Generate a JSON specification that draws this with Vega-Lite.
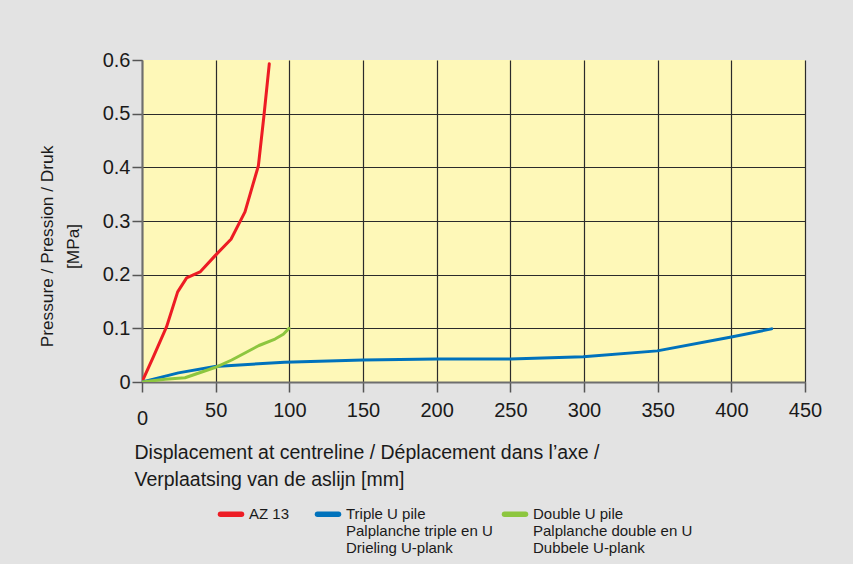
{
  "$schema": "https://vega.github.io/schema/vega-lite/v6.json",
  "width": 663,
  "height": 322,
  "autosize": "none",
  "padding": {"left": 142, "top": 60, "right": 48, "bottom": 182},
  "background": "#e3e3e3",
  "config": {"font": "Liberation Sans", "view": {"fill": "#fef8b8", "stroke": null}},
  "data": {"values": [
    {"series": "AZ 13", "x": 0, "y": 0},
    {"series": "AZ 13", "x": 7.7, "y": 0.047},
    {"series": "AZ 13", "x": 16.7, "y": 0.103},
    {"series": "AZ 13", "x": 24.2, "y": 0.168},
    {"series": "AZ 13", "x": 30.3, "y": 0.194},
    {"series": "AZ 13", "x": 39.4, "y": 0.205},
    {"series": "AZ 13", "x": 49.5, "y": 0.235},
    {"series": "AZ 13", "x": 60.4, "y": 0.266},
    {"series": "AZ 13", "x": 69.9, "y": 0.317},
    {"series": "AZ 13", "x": 79, "y": 0.403},
    {"series": "AZ 13", "x": 82.8, "y": 0.497},
    {"series": "AZ 13", "x": 86.4, "y": 0.593},
    {"series": "Triple U pile|Palplanche triple en U|Drieling U-plank", "x": 0, "y": 0},
    {"series": "Triple U pile|Palplanche triple en U|Drieling U-plank", "x": 24.7, "y": 0.017},
    {"series": "Triple U pile|Palplanche triple en U|Drieling U-plank", "x": 49.5, "y": 0.029},
    {"series": "Triple U pile|Palplanche triple en U|Drieling U-plank", "x": 96.7, "y": 0.037},
    {"series": "Triple U pile|Palplanche triple en U|Drieling U-plank", "x": 150, "y": 0.041},
    {"series": "Triple U pile|Palplanche triple en U|Drieling U-plank", "x": 200, "y": 0.043},
    {"series": "Triple U pile|Palplanche triple en U|Drieling U-plank", "x": 250, "y": 0.043},
    {"series": "Triple U pile|Palplanche triple en U|Drieling U-plank", "x": 299.5, "y": 0.047},
    {"series": "Triple U pile|Palplanche triple en U|Drieling U-plank", "x": 349.7, "y": 0.058},
    {"series": "Triple U pile|Palplanche triple en U|Drieling U-plank", "x": 400, "y": 0.084},
    {"series": "Triple U pile|Palplanche triple en U|Drieling U-plank", "x": 427.4, "y": 0.099},
    {"series": "Double U pile|Palplanche double en U|Dubbele U-plank", "x": 0, "y": 0},
    {"series": "Double U pile|Palplanche double en U|Dubbele U-plank", "x": 15.6, "y": 0.005},
    {"series": "Double U pile|Palplanche double en U|Dubbele U-plank", "x": 29.2, "y": 0.008},
    {"series": "Double U pile|Palplanche double en U|Dubbele U-plank", "x": 49.5, "y": 0.027},
    {"series": "Double U pile|Palplanche double en U|Dubbele U-plank", "x": 60.9, "y": 0.041},
    {"series": "Double U pile|Palplanche double en U|Dubbele U-plank", "x": 79.4, "y": 0.068},
    {"series": "Double U pile|Palplanche double en U|Dubbele U-plank", "x": 90.3, "y": 0.08},
    {"series": "Double U pile|Palplanche double en U|Dubbele U-plank", "x": 95.9, "y": 0.089},
    {"series": "Double U pile|Palplanche double en U|Dubbele U-plank", "x": 99.8, "y": 0.1}
  ]},
  "mark": {"type": "line", "strokeWidth": 3, "strokeCap": "round", "strokeJoin": "round", "clip": true},
  "encoding": {
    "x": {
      "field": "x", "type": "quantitative",
      "scale": {"domain": [0, 450], "nice": false},
      "axis": {
        "values": [0, 50, 100, 150, 200, 250, 300, 350, 400, 450],
        "labelFlush": false, "labelOverlap": false,
        "domainColor": "#6e6e6e", "domainWidth": 2,
        "tickColor": "#555555", "tickWidth": 1.5, "tickSize": 10,
        "gridColor": "#2b2b2b", "gridWidth": 1.2,
        "labelFontSize": 20, "labelColor": "#1a1a1a",
        "labelPadding": {"condition": {"test": "datum.value === 0", "value": 16}, "value": 8},
        "title": ["Displacement at centreline / Déplacement dans l’axe /", "Verplaatsing van de aslijn [mm]"],
        "titleFontSize": 19.5, "titleFontWeight": "normal", "titleColor": "#1a1a1a",
        "titleX": -8, "titleY": 76, "titleAlign": "left", "titleAnchor": "start",
        "titleBaseline": "alphabetic", "titleLineHeight": 27
      }
    },
    "y": {
      "field": "y", "type": "quantitative",
      "scale": {"domain": [0, 0.6], "nice": false},
      "axis": {
        "values": [0, 0.1, 0.2, 0.3, 0.4, 0.5, 0.6],
        "labelExpr": "datum.value == 0 ? '0' : format(datum.value, '.1f')",
        "labelFlush": false, "labelOverlap": false,
        "domainColor": "#6e6e6e", "domainWidth": 2,
        "tickColor": "#555555", "tickWidth": 1.5, "tickSize": 10,
        "gridColor": "#2b2b2b", "gridWidth": 1.2,
        "gridOpacity": {"condition": {"test": "datum.value >= 0.59", "value": 0}, "value": 1},
        "labelFontSize": 20, "labelColor": "#1a1a1a", "labelPadding": 2,
        "title": ["Pressure / Pression / Druk", "[MPa]"],
        "titleFontSize": 17.3, "titleFontWeight": "normal", "titleColor": "#1a1a1a",
        "titleX": -104, "titleY": 186, "titleAngle": -90, "titleAlign": "center",
        "titleBaseline": "top", "titleLineHeight": 26
      }
    },
    "color": {
      "field": "series", "type": "nominal",
      "scale": {
        "domain": ["AZ 13", "Triple U pile|Palplanche triple en U|Drieling U-plank", "Double U pile|Palplanche double en U|Dubbele U-plank"],
        "range": ["#ed1c24", "#0072bc", "#8dc63f"]
      },
      "legend": {
        "orient": "none", "legendX": 76, "legendY": 441,
        "direction": "horizontal", "columns": 3, "columnPadding": 0, "padding": 0,
        "title": null,
        "labelExpr": "datum.label == 'AZ 13' ? ['AZ 13\u00a0\u00a0\u00a0\u00a0\u200b', '', ''] : split(datum.label, '|')",
        "labelFontSize": 15, "labelColor": "#1a1a1a", "labelLimit": 400, "labelOffset": 5,
        "symbolType": "M-1.05,0H1.05", "symbolSize": 400, "symbolStrokeWidth": 5.5,
        "encode": {
          "symbols": {"update": {"strokeCap": {"value": "round"}}},
          "labels": {"update": {"lineHeight": {"value": 16.7}}}
        }
      }
    }
  }
}
